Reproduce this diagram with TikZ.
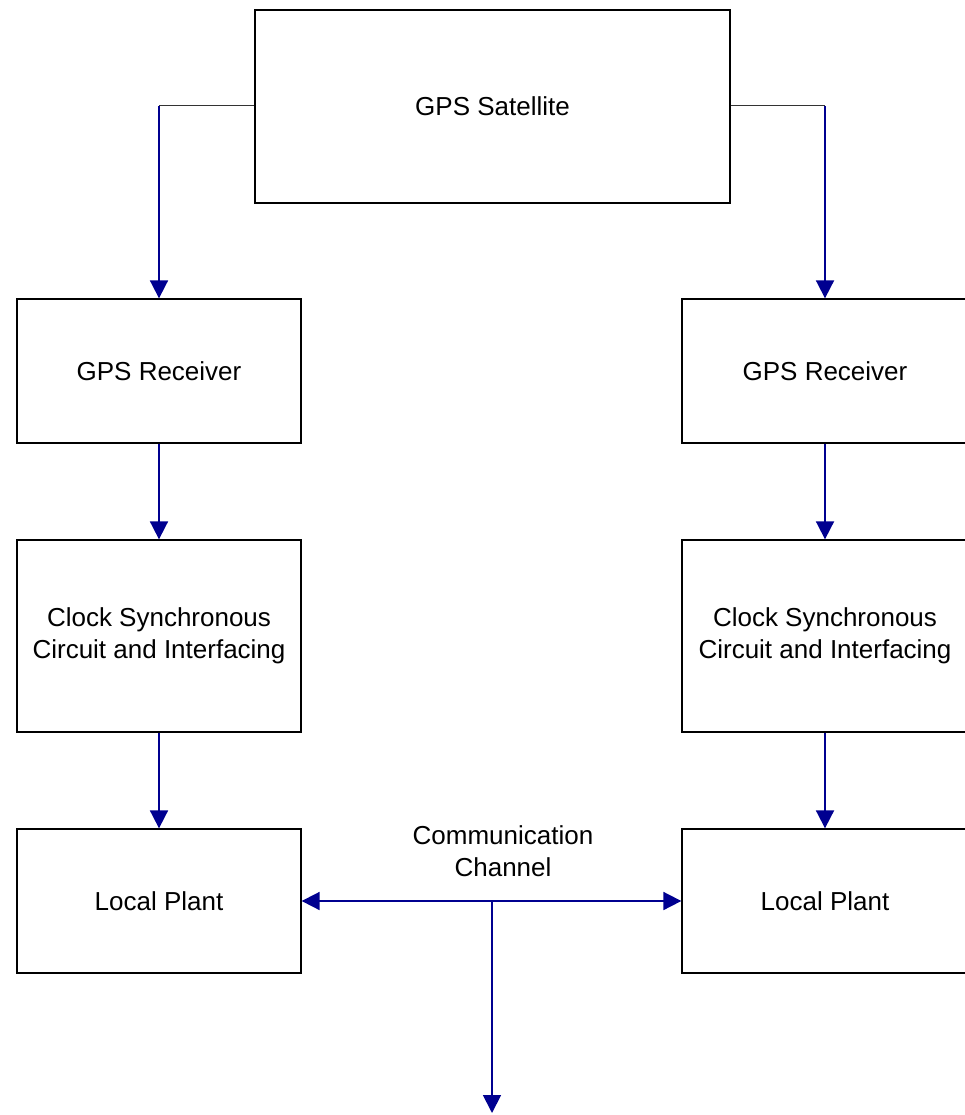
\documentclass[tikz,border=0pt]{standalone}
\usepackage{fontspec}
\setmainfont{Liberation Sans}
\usetikzlibrary{arrows.meta}
\definecolor{arrowblue}{HTML}{000090}
\begin{document}
\begin{tikzpicture}[x=1pt,y=-1pt,
  blk/.style={draw=black,line width=1.3pt,fill=white,inner sep=0pt,align=center,font=\fontsize{26}{32}\selectfont},
  flow/.style={draw=arrowblue,line width=1.8pt,-{Triangle[length=18pt,width=18pt]}},
  flow2/.style={draw=arrowblue,line width=1.8pt,{Triangle[length=18pt,width=18pt]}-{Triangle[length=18pt,width=18pt]}},
  feed/.style={draw=black!80,line width=1pt},
  lbl/.style={font=\fontsize{26}{32}\selectfont,align=center}]
\useasboundingbox (0,0) rectangle (965,1115);
\begin{scope}
\clip (0,0) rectangle (965,1115);
\node[blk,minimum width=475pt,minimum height=193pt] (sat) at (492.5,106.5) {GPS Satellite};
\node[blk,minimum width=284pt,minimum height=144pt] (rl) at (159,371) {GPS Receiver};
\node[blk,minimum width=286pt,minimum height=144pt] (rr) at (825,371) {GPS Receiver};
\node[blk,minimum width=284pt,minimum height=192pt] (cl) at (159,636) {Clock Synchronous\\Circuit and Interfacing};
\node[blk,minimum width=286pt,minimum height=192pt] (cr) at (825,636) {Clock Synchronous\\Circuit and Interfacing};
\node[blk,minimum width=284pt,minimum height=144pt] (pl) at (159,901) {Local Plant};
\node[blk,minimum width=286pt,minimum height=144pt] (pr) at (825,901) {Local Plant};
\end{scope}
\coordinate (kl) at (159,106);
\coordinate (kr) at (825,106);
\coordinate (jn) at (492,901);
\coordinate (out) at (492,1113);
\draw[feed] (sat.west |- kl) -- (kl);
\draw[feed] (sat.east |- kr) -- (kr);
\draw[flow] (kl) -- (rl.north);
\draw[flow] (kr) -- (rr.north);
\draw[flow] (rl.south) -- (cl.north);
\draw[flow] (rr.south) -- (cr.north);
\draw[flow] (cl.south) -- (pl.north);
\draw[flow] (cr.south) -- (pr.north);
\draw[flow2] (pl.east) -- (pr.west);
\draw[flow] (jn) -- (out);
\node[lbl] (cc) at (503,851) {Communication\\Channel};
\end{tikzpicture}
\end{document}
